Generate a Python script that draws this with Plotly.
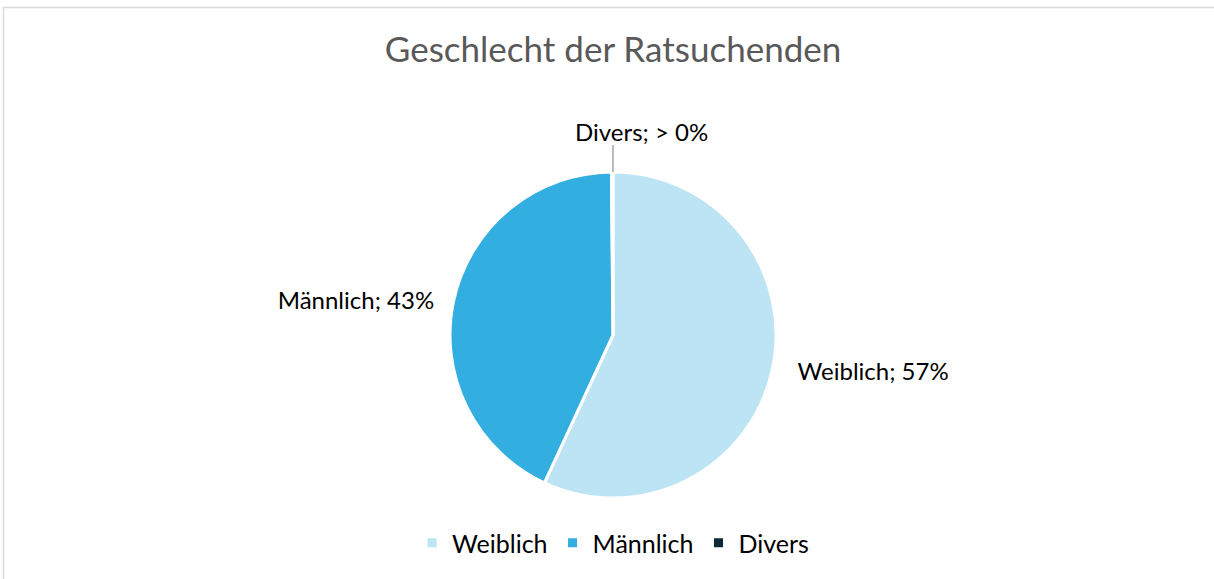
import plotly.graph_objects as go

categories = ["Weiblich", "Männlich", "Divers"]
values = [57, 43, 0.15]
label_texts = ["\u00a0\u00a0\u00a0Weiblich; 57%", "Männlich; 43%\u00a0\u00a0", ""]
divers_label = "Divers; > 0%"
colors = ["#BDE4F4", "#33AEE0", "#0E2838"]

W, H = 1214, 579
# pixel layout (from top-left)
cx, top_px, bot_px = 613, 172, 498

fig = go.Figure(go.Pie(
    labels=categories,
    values=values,
    text=label_texts,
    texttemplate="%{text}",
    textposition="outside",
    sort=False,
    direction="clockwise",
    rotation=0,
    marker=dict(colors=colors, line=dict(color="white", width=3)),
    outsidetextfont=dict(family="Lato", size=24, color="#000000"),
    domain=dict(x=[(cx - 400) / W, (cx + 400) / W], y=[(H - bot_px) / H, (H - top_px) / H]),
    automargin=False,
    hoverinfo="label+percent",
))

fig.update_layout(
    width=W, height=H,
    margin=dict(l=0, r=0, t=0, b=0),
    paper_bgcolor="white",
    title=dict(text="Geschlecht der Ratsuchenden", x=0.505, xanchor="center",
               y=1 - 50 / H, yanchor="middle",
               font=dict(family="Lato", size=35, color="#595959")),
    showlegend=True,
    legend=dict(orientation="h", x=0.505, xanchor="center", y=1 - 543 / H, yanchor="middle",
                font=dict(family="Lato", size=25, color="#000000"), itemwidth=30),
    shapes=[
        dict(type="rect", xref="paper", yref="paper",
             x0=3.5 / W, x1=1.05, y0=-0.05, y1=1 - 7.5 / H,
             line=dict(color="#D9D9D9", width=1.5)),
        dict(type="line", xref="paper", yref="paper",
             x0=613 / W, x1=613 / W, y0=1 - 145 / H, y1=1 - 172 / H,
             line=dict(color="#A6A6A6", width=1.5)),
    ],
    annotations=[dict(text=divers_label, xref="paper", yref="paper",
                      x=641 / W, y=1 - 131 / H, xanchor="center", yanchor="middle",
                      showarrow=False, font=dict(family="Lato", size=24, color="#000000"))],
)

fig.write_html("out.html", config={"displayModeBar": False},
               post_script="document.body.style.margin='0';")
